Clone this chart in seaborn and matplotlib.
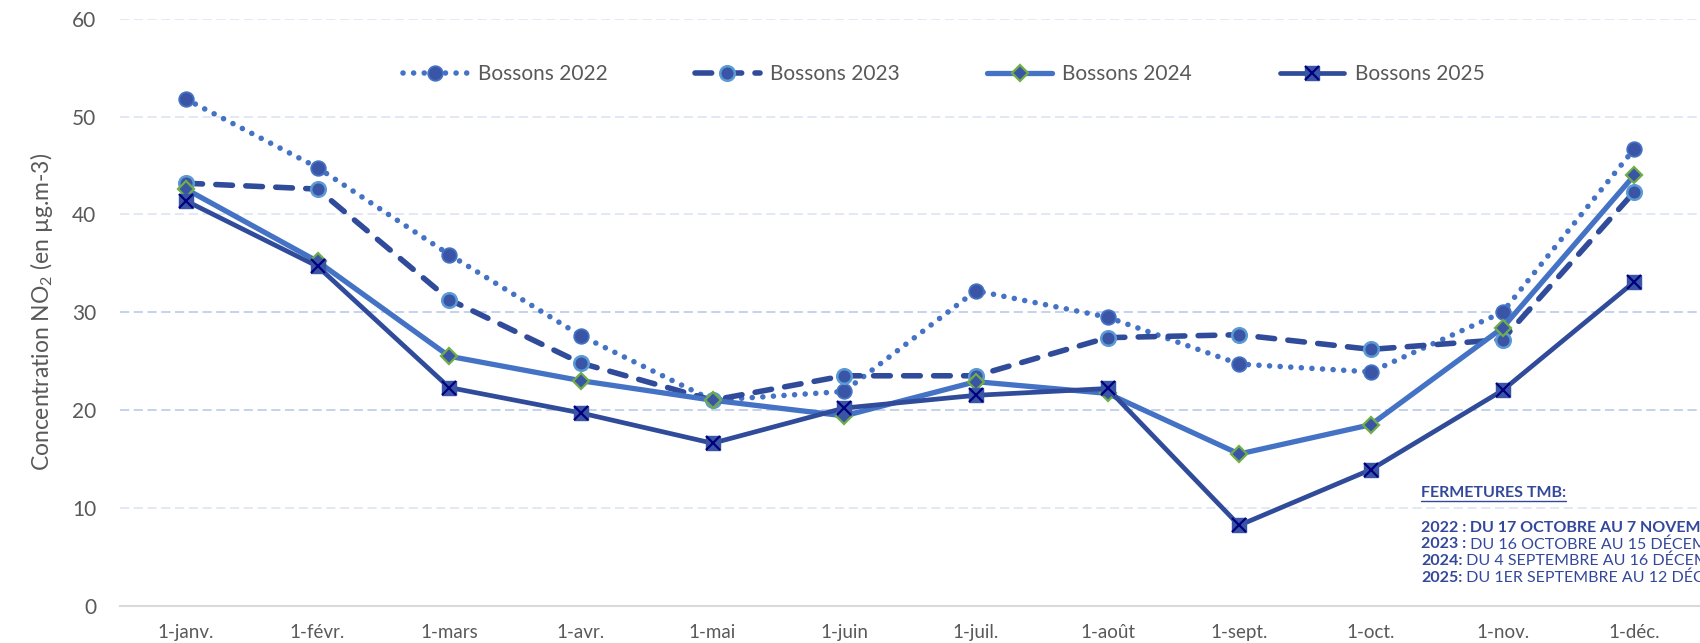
import numpy as np
import matplotlib
matplotlib.use("Agg")
import matplotlib.pyplot as plt
from matplotlib.lines import Line2D
import seaborn as sns

mois = ["1-janv.", "1-févr.", "1-mars", "1-avr.", "1-mai", "1-juin",
        "1-juil.", "1-août", "1-sept.", "1-oct.", "1-nov.", "1-déc."]
bossons_2022 = [51.8, 44.8, 35.9, 27.6, 21.0, 21.9, 32.2, 29.5, 24.7, 23.9, 30.0, 46.7]
bossons_2023 = [43.2, 42.6, 31.3, 24.8, 21.0, 23.5, 23.5, 27.4, 27.7, 26.2, 27.2, 42.3]
bossons_2024 = [42.6, 35.2, 25.5, 23.0, 21.0, 19.4, 22.9, 21.7, 15.5, 18.5, 28.4, 44.0]
bossons_2025 = [41.4, 34.7, 22.3, 19.7, 16.6, 20.2, 21.5, 22.2, 8.2, 13.9, 22.0, 33.1]
labels = ["Bossons 2022", "Bossons 2023", "Bossons 2024", "Bossons 2025"]
y_ticks = [0, 10, 20, 30, 40, 50, 60]

fermetures_titre = "FERMETURES TMB:"
fermetures = [("2022 :", " DU 17 OCTOBRE AU 7 NOVEMBRE", True),
              ("2023 :", " DU 16 OCTOBRE AU 15 DÉCEMBRE", False),
              ("2024:", " DU 4 SEPTEMBRE AU 16 DÉCEMBRE", False),
              ("2025:", " DU 1ER SEPTEMBRE AU 12 DÉCEMBRE", False)]

sns.set_style("white")
plt.rcParams['font.family'] = ['Lato', 'DejaVu Sans']
plt.rcParams['mathtext.default'] = 'regular'

BLEU = "#4472C4"
BLEU_F = "#2F4B9A"
FILL = "#3A55A5"
GRIS = "#595959"
TXT = "#33489B"

fig = plt.figure(figsize=(17, 6.43), dpi=100)
ax = fig.add_axes([0.0706, 0.0583, 0.9294, 0.9122])
x = np.arange(len(mois))

# grille
for v in y_ticks[1:]:
    c = "#B4C7E7" if v in (20, 30) else "#DAE3F3"
    ax.axhline(v, color=c, lw=1.1, ls=(0, (6, 3)), zorder=0)

st22 = dict(color=BLEU, lw=4.0, ls=(0, (0.01, 1.9)), dash_capstyle="round",
            marker="o", ms=10.5, mfc=FILL, mec=BLEU, mew=1.3)
st23 = dict(color=BLEU_F, lw=4.0, ls=(0, (3.0, 2.4)), dash_capstyle="round",
            marker="o", ms=10.5, mfc=FILL, mec="#5B9BD5", mew=1.8)
st24 = dict(color=BLEU, lw=3.8, ls="-", marker="D", ms=8.5, mfc=FILL, mec="#70AD47", mew=1.6)
st25 = dict(color=BLEU_F, lw=3.4, ls="-", marker="s", ms=10, mfc=FILL, mec=FILL, mew=1)
st25x = dict(color="#000080", marker="x", ms=10, mew=1.6)

sns.lineplot(x=x, y=bossons_2022, ax=ax, zorder=3, **st22)
sns.lineplot(x=x, y=bossons_2023, ax=ax, zorder=4, **st23)
sns.lineplot(x=x, y=bossons_2024, ax=ax, zorder=5, **st24)
sns.lineplot(x=x, y=bossons_2025, ax=ax, zorder=6, **st25)
ax.plot(x, bossons_2025, zorder=7, ls="none", **st25x)

ax.set_xlim(-0.5, len(mois) - 0.5)
ax.set_ylim(0, 60)
ax.set_yticks(y_ticks)
ax.set_xticks(x)
ax.set_xticklabels(mois)
ax.set_xticks(np.arange(-0.5, len(mois)), minor=True)
ax.tick_params(axis="x", which="major", length=0, pad=13, labelsize=13.5, labelcolor=GRIS)
ax.tick_params(axis="x", which="minor", length=4.5, width=1.2, color="#D9D9D9", direction="out")
ax.tick_params(axis="y", length=0, pad=17, labelsize=15, labelcolor=GRIS)
for s in ["top", "right", "left"]:
    ax.spines[s].set_visible(False)
ax.spines["bottom"].set_color("#D9D9D9")
ax.spines["bottom"].set_linewidth(1.5)
ax.set_ylabel("Concentration NO$_2$ (en µg.m-3)", fontsize=16.5, color=GRIS, labelpad=12)

# légende
h22 = Line2D([], [], **st22)
h23 = Line2D([], [], **st23)
h24 = Line2D([], [], **st24)
h25 = (Line2D([], [], **st25), Line2D([], [], ls="none", **st25x))
fig.legend([h22, h23, h24, h25], labels, loc="center", bbox_to_anchor=(0.555, 0.8845),
           ncol=4, frameon=False, fontsize=15, labelcolor=GRIS, handlelength=3.1,
           handletextpad=0.5, columnspacing=4.2, numpoints=1)

# fermetures
t = fig.text(1421 / 1700, 1 - 493 / 643, fermetures_titre, fontsize=11.5, fontweight="bold",
             color=TXT, va="center", ha="left")
y0 = 528
for i, (an, txt, gras) in enumerate(fermetures):
    yy = 1 - (y0 + i * 16.5) / 643
    tb = fig.text(1421 / 1700, yy, an, fontsize=11.5, fontweight="bold", color=TXT,
                  va="center", ha="left")
    ax.annotate(txt, xy=(1, 0.5), xycoords=tb, va="center", ha="left", fontsize=11.5,
                fontweight="bold" if gras else "normal", color=TXT, annotation_clip=False)

fig.canvas.draw()
bb = t.get_window_extent().transformed(fig.transFigure.inverted())
fig.add_artist(Line2D([bb.x0, bb.x1], [bb.y0 - 0.002, bb.y0 - 0.002], color=TXT, lw=1.0,
                      transform=fig.transFigure))

fig.savefig("out.png", dpi=100)
